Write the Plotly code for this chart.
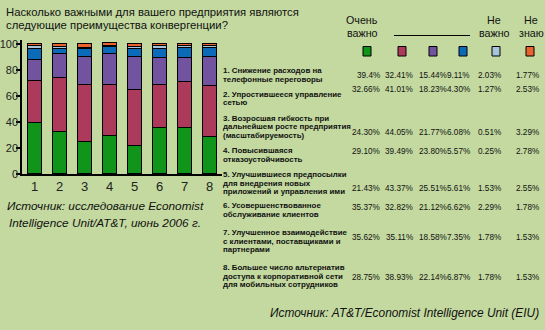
import plotly.graph_objects as go

W, H = 545, 330
BG = "#c3d99f"
FONT = "Liberation Sans, Arial, sans-serif"

categories = [1, 2, 3, 4, 5, 6, 7, 8]
series_names = ["Очень важно", "2", "3", "4", "Не важно", "Не знаю"]
colors = ["#10941a", "#ac3a5a", "#7253a0", "#0b6bb8", "#a8c4da", "#e8632f"]
values = [
    [39.4, 32.66, 24.30, 29.10, 21.43, 35.37, 35.62, 28.75],
    [32.41, 41.01, 44.05, 39.49, 43.37, 32.82, 35.11, 38.93],
    [15.44, 18.23, 21.77, 23.80, 25.51, 21.12, 18.58, 22.14],
    [9.11, 4.30, 6.08, 5.57, 5.61, 6.62, 7.35, 6.87],
    [2.03, 1.27, 0.51, 0.25, 1.53, 2.29, 1.78, 1.78],
    [1.77, 2.53, 3.29, 2.78, 2.55, 1.78, 1.53, 1.53],
]
value_labels = [
    ["39.4%", "32.41%", "15.44%", "9.11%", "2.03%", "1.77%"],
    ["32.66%", "41.01%", "18.23%", "4.30%", "1.27%", "2.53%"],
    ["24.30%", "44.05%", "21.77%", "6.08%", "0.51%", "3.29%"],
    ["29.10%", "39.49%", "23.80%", "5.57%", "0.25%", "2.78%"],
    ["21.43%", "43.37%", "25.51%", "5.61%", "1.53%", "2.55%"],
    ["35.37%", "32.82%", "21.12%", "6.62%", "2.29%", "1.78%"],
    ["35.62%", "35.11%", "18.58%", "7.35%", "1.78%", "1.53%"],
    ["28.75%", "38.93%", "22.14%", "6.87%", "1.78%", "1.53%"],
]
row_labels = [
    ["1. Снижение расходов на", "телефонные переговоры"],
    ["2. Упростившееся управление", "сетью"],
    ["3. Возросшая гибкость при", "дальнейшем росте предприятия", "(масштабируемость)"],
    ["4. Повысившаяся", "отказоустойчивость"],
    ["5. Улучшившиеся предпосылки", "для внедрения новых", "приложений и управления ими"],
    ["6. Усовершенствованное", "обслуживание клиентов"],
    ["7. Улучшенное взаимодействие", "с клиентами, поставщиками и", "партнерами"],
    ["8. Большее число альтернатив", "доступа к корпоративной сети", "для мобильных сотрудников"],
]
title_lines = ["Насколько важными для вашего предприятия являются",
               "следующие преимущества конвергенции?"]
source_left = ["Источник: исследование Economist", "Intelligence Unit/AT&T, июнь 2006 г."]
source_right = "Источник: AT&T/Economist Intelligence Unit (EIU)"
y_ticks = [0, 20, 40, 60, 80, 100]

# layout positions (pixels)
row_first_y = [71, 94, 118, 151, 174.5, 205.5, 232.5, 267.5]
row_value_y = [75, 89.5, 132.5, 151.5, 188.5, 207.5, 237.5, 277.5]
col_right_x = [381, 414, 447.5, 471, 502, 540]
legend_x = [367, 402, 433, 463, 496, 530]


def px(x):
    return x / W


def py(y):
    return 1 - y / H


fig = go.Figure()
for name, col, vals in zip(series_names, colors, values):
    fig.add_trace(go.Bar(x=categories, y=vals, name=name, width=0.56,
                         marker=dict(color=col, line=dict(color="black", width=1.3)),
                         showlegend=False))

ann = []
for i, t in enumerate(title_lines):
    ann.append(dict(x=px(5), y=py(12 + 13 * i), text=t, xanchor="left", yanchor="middle",
                    font=dict(size=11.3, color="#111")))
for i, t in enumerate(source_left):
    ann.append(dict(x=px(105), y=py(206 + 17 * i), text="<i>%s</i>" % t, xanchor="center",
                    yanchor="middle", font=dict(size=11.8, color="#111")))
ann.append(dict(x=px(540), y=py(313), text="<i>%s</i>" % source_right, xanchor="right",
                yanchor="middle", font=dict(size=11.9, color="#111")))
for r, lines in enumerate(row_labels):
    for j, t in enumerate(lines):
        ann.append(dict(x=px(222), y=py(row_first_y[r] + 8.7 * j), text="<b>%s</b>" % t,
                        xanchor="left", yanchor="middle", font=dict(size=7.9, color="#111")))
    for c, t in enumerate(value_labels[r]):
        ann.append(dict(x=px(col_right_x[c]), y=py(row_value_y[r]), text=t,
                        xanchor="right", yanchor="middle", font=dict(size=8.2, color="#111")))
headers = [(362, ["Очень", "важно"]), (494, ["Не", "важно"]), (531, ["Не", "знаю"])]
for x, lines in headers:
    for j, t in enumerate(lines):
        ann.append(dict(x=px(x), y=py(20 + 13 * j), text=t, xanchor="center", yanchor="middle",
                        font=dict(size=10.7, color="#111")))
for a in ann:
    a.update(xref="paper", yref="paper", showarrow=False, borderpad=0)

shapes = [dict(type="line", xref="paper", yref="paper", x0=px(394), x1=px(470),
               y0=py(35.5), y1=py(35.5), line=dict(color="black", width=1))]
for x, col in zip(legend_x, colors):
    shapes.append(dict(type="rect", xref="paper", yref="paper", x0=px(x - 4), x1=px(x + 4),
                       y0=py(46.5), y1=py(56), fillcolor=col, line=dict(color="black", width=1)))

fig.update_layout(
    width=W, height=H, margin=dict(l=0, r=0, t=0, b=0, autoexpand=False),
    paper_bgcolor=BG, plot_bgcolor=BG, barmode="stack", bargap=0,
    font=dict(family=FONT, color="#111"),
    annotations=ann, shapes=shapes,
    xaxis=dict(domain=[px(22), px(222)], range=[0.5, 8.5], tickvals=categories,
               showline=True, linecolor="black", linewidth=1.5, ticks="", showgrid=False,
               zeroline=False, tickfont=dict(size=13, color="#222"), fixedrange=True,
               automargin=False),
    yaxis=dict(domain=[py(174), py(40)], range=[0, 103], tickvals=y_ticks,
               showline=True, linecolor="black", linewidth=1.5, ticks="outside", ticklen=4,
               tickwidth=1.5, tickcolor="black", showgrid=False, zeroline=False,
               ticklabelstandoff=-4,
               tickfont=dict(size=11, color="#222"), fixedrange=True, automargin=False),
)
fig.write_html("out.html")
